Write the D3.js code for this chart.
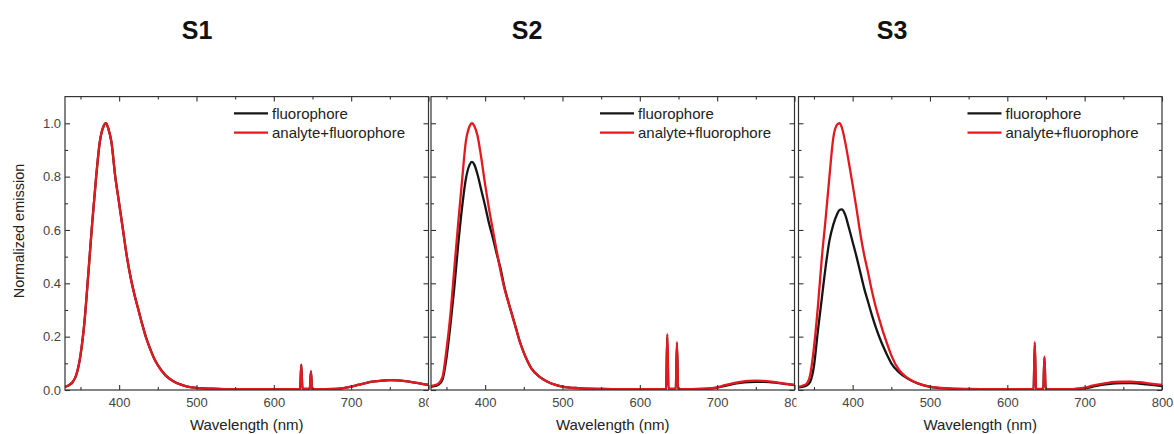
<!DOCTYPE html>
<html>
<head>
<meta charset="utf-8">
<script src="https://cdn.jsdelivr.net/npm/d3@7"></script>
<style>
  html, body { margin: 0; padding: 0; background: #fff; }
  svg { display: block; font-family: "Liberation Sans", Arial, sans-serif; }
</style>
</head>
<body>
<svg id="chart" width="1174" height="434"></svg>
<script>
// Emission wavelengths (nm) shared by every spectrum
const wavelength = [330, 335, 340, 345, 350, 355, 360, 365, 370, 375, 380, 383, 386,
  390, 395, 400, 405, 410, 415, 420, 425, 430, 435, 440, 445, 450,
  460, 470, 480, 490, 500, 520, 550, 580, 610, 630,
  634, 635.5, 637, 646.5, 648, 649.5, 655, 680, 690,
  700, 710, 720, 730, 740, 750, 760, 770, 780, 790, 800];

const panelTitles = ["S1", "S2", "S3"];
const seriesNames = ["fluorophore", "analyte+fluorophore"];

// S1: both spectra coincide
const s1Fluorophore = [0.012, 0.018, 0.03, 0.06, 0.13, 0.25, 0.43, 0.62, 0.79, 0.93, 0.99, 1.0, 0.98,
  0.93, 0.80, 0.70, 0.60, 0.50, 0.42, 0.355, 0.30, 0.245, 0.195, 0.155, 0.12, 0.093,
  0.055, 0.033, 0.02, 0.012, 0.008, 0.005, 0.003, 0.003, 0.003, 0.003,
  0.004, 0.095, 0.004, 0.004, 0.07, 0.004, 0.003, 0.004, 0.007,
  0.013, 0.02, 0.027, 0.032, 0.035, 0.037, 0.036, 0.033, 0.029, 0.024, 0.019];
const s1Mixture = [0.012, 0.018, 0.03, 0.06, 0.13, 0.25, 0.43, 0.62, 0.79, 0.93, 0.99, 1.0, 0.98,
  0.93, 0.80, 0.70, 0.60, 0.50, 0.42, 0.355, 0.30, 0.245, 0.195, 0.155, 0.12, 0.093,
  0.055, 0.033, 0.02, 0.012, 0.008, 0.005, 0.003, 0.003, 0.003, 0.003,
  0.004, 0.095, 0.004, 0.004, 0.07, 0.004, 0.003, 0.004, 0.007,
  0.013, 0.02, 0.027, 0.032, 0.035, 0.037, 0.036, 0.033, 0.029, 0.024, 0.019];

// S2
const s2Fluorophore = [0.012, 0.015, 0.02, 0.04, 0.12, 0.24, 0.38, 0.54, 0.68, 0.79, 0.845, 0.855, 0.845,
  0.81, 0.75, 0.69, 0.625, 0.57, 0.51, 0.455, 0.385, 0.33, 0.28, 0.23, 0.18, 0.14,
  0.08, 0.05, 0.032, 0.02, 0.013, 0.007, 0.004, 0.003, 0.003, 0.003,
  0.004, 0.2, 0.004, 0.004, 0.17, 0.004, 0.003, 0.004, 0.005,
  0.009, 0.015, 0.022, 0.027, 0.03, 0.031, 0.031, 0.029, 0.026, 0.022, 0.018];
const s2Mixture = [0.015, 0.018, 0.025, 0.05, 0.15, 0.28, 0.45, 0.62, 0.78, 0.93, 0.99, 1.0, 0.99,
  0.955, 0.87, 0.77, 0.68, 0.60, 0.52, 0.445, 0.38, 0.33, 0.28, 0.23, 0.18, 0.14,
  0.08, 0.05, 0.032, 0.02, 0.013, 0.007, 0.004, 0.003, 0.003, 0.003,
  0.004, 0.21, 0.004, 0.004, 0.18, 0.004, 0.003, 0.004, 0.006,
  0.01, 0.018, 0.025, 0.03, 0.034, 0.035, 0.034, 0.031, 0.027, 0.023, 0.019];

// S3
const s3Fluorophore = [0.01, 0.012, 0.016, 0.03, 0.09, 0.22, 0.34, 0.46, 0.56, 0.62, 0.66, 0.675, 0.677,
  0.66, 0.61, 0.555, 0.5, 0.44, 0.38, 0.33, 0.28, 0.235, 0.195, 0.16, 0.128, 0.1,
  0.066, 0.045, 0.03, 0.019, 0.012, 0.006, 0.003, 0.002, 0.002, 0.002,
  0.003, 0.17, 0.003, 0.003, 0.12, 0.003, 0.002, 0.002, 0.004,
  0.006, 0.012, 0.018, 0.022, 0.025, 0.026, 0.026, 0.024, 0.021, 0.018, 0.015];
const s3Mixture = [0.012, 0.016, 0.022, 0.055, 0.16, 0.31, 0.49, 0.64, 0.80, 0.945, 0.995, 1.0, 0.985,
  0.935, 0.855, 0.77, 0.68, 0.585, 0.505, 0.44, 0.37, 0.31, 0.26, 0.212, 0.17, 0.13,
  0.075, 0.047, 0.03, 0.019, 0.013, 0.007, 0.004, 0.003, 0.003, 0.003,
  0.004, 0.18, 0.004, 0.004, 0.125, 0.004, 0.003, 0.003, 0.005,
  0.009, 0.016, 0.022, 0.027, 0.03, 0.031, 0.031, 0.029, 0.026, 0.022, 0.019];

const xMajorTicks = [400, 500, 600, 700, 800];
const xMinorTicks = [350, 450, 550, 650, 750];
const yMajorTicks = [0.0, 0.2, 0.4, 0.6, 0.8, 1.0];
const yMinorTicks = [0.1, 0.3, 0.5, 0.7, 0.9];
const xAxisLabel = "Wavelength (nm)";
const yAxisLabel = "Normalized emission";

const panels = [
  { title: panelTitles[0], fluor: s1Fluorophore, mix: s1Mixture },
  { title: panelTitles[1], fluor: s2Fluorophore, mix: s2Mixture },
  { title: panelTitles[2], fluor: s3Fluorophore, mix: s3Mixture }
];

// Layout
const panelLeft = [65, 431, 798.5];
const titleCenter = [197, 527, 892];
const plotTop = 96.6, plotWidth = 363.5, plotHeight = 293.4;
const frameColor = "#333";
const colors = ["#151515", "#e3191f"];

const svg = d3.select("#chart");

const x = d3.scaleLinear().domain([330, 800]).range([0, plotWidth]);
const y = d3.scaleLinear().domain([0, 1.1]).range([plotHeight, 0]);

const line = d3.line()
  .x(d => x(d[0]))
  .y(d => y(d[1]))
  .curve(d3.curveMonotoneX);

// Panel titles
svg.selectAll("text.title")
  .data(panels)
  .join("text")
  .attr("class", "title")
  .attr("x", (d, i) => titleCenter[i])
  .attr("y", 39)
  .attr("text-anchor", "middle")
  .style("font-family", '"Liberation Sans Narrow", "Liberation Sans", Arial, sans-serif')
  .style("font-weight", "bold")
  .style("font-size", "25px")
  .attr("fill", "#111")
  .text(d => d.title);

// Shared y-axis title
svg.append("text")
  .attr("transform", `translate(19,231) rotate(-90)`)
  .attr("text-anchor", "middle")
  .attr("dominant-baseline", "central")
  .style("font-size", "14.5px")
  .attr("fill", "#222")
  .text(yAxisLabel);

function styleAxis(g) {
  g.select(".domain").remove();
  g.selectAll(".tick line").attr("stroke", frameColor).attr("stroke-width", 1.1);
  g.selectAll(".tick text").attr("fill", "#444").style("font-size", "13px");
}

panels.forEach((p, i) => {
  const g = svg.append("g").attr("transform", `translate(${panelLeft[i]},${plotTop})`);

  // Blank strip under the plot so each panel sits on top of the previous one's edge labels
  g.append("rect")
    .attr("x", -2).attr("y", plotHeight + 1)
    .attr("width", plotWidth + 3).attr("height", 40)
    .attr("fill", "#fff");

  const clipId = `clip-${i}`;
  g.append("clipPath").attr("id", clipId)
    .append("rect").attr("x", 0).attr("y", 0).attr("width", plotWidth).attr("height", plotHeight);

  // Spectra
  const series = [p.fluor, p.mix];
  g.append("g").attr("clip-path", `url(#${clipId})`)
    .selectAll("path")
    .data(series)
    .join("path")
    .attr("d", vals => line(wavelength.map((w, k) => [w, vals[k]])))
    .attr("fill", "none")
    .attr("stroke", (d, k) => colors[k])
    .attr("stroke-width", 2.3)
    .attr("stroke-linejoin", "round");

  // Bottom axis (inward ticks, labelled)
  g.append("g").attr("transform", `translate(0,${plotHeight})`)
    .call(d3.axisBottom(x).tickValues(xMajorTicks).tickSize(-5).tickSizeOuter(0).tickPadding(8).tickFormat(d3.format("d")))
    .call(styleAxis);
  g.append("g").attr("transform", `translate(0,${plotHeight})`)
    .call(d3.axisBottom(x).tickValues(xMinorTicks).tickSize(-3).tickSizeOuter(0).tickFormat(""))
    .call(styleAxis);

  // Top axis (mirror ticks)
  g.append("g")
    .call(d3.axisTop(x).tickValues(xMajorTicks).tickSize(-5).tickSizeOuter(0).tickFormat(""))
    .call(styleAxis);
  g.append("g")
    .call(d3.axisTop(x).tickValues(xMinorTicks).tickSize(-3).tickSizeOuter(0).tickFormat(""))
    .call(styleAxis);

  // Left axis: labels only on the first panel
  g.append("g")
    .call(d3.axisLeft(y).tickValues(yMajorTicks).tickSize(-5).tickSizeOuter(0).tickPadding(4)
      .tickFormat(i === 0 ? d3.format(".1f") : ""))
    .call(styleAxis);
  g.append("g")
    .call(d3.axisLeft(y).tickValues(yMinorTicks).tickSize(-3).tickSizeOuter(0).tickFormat(""))
    .call(styleAxis);

  // Right axis (mirror ticks)
  g.append("g").attr("transform", `translate(${plotWidth},0)`)
    .call(d3.axisRight(y).tickValues(yMajorTicks).tickSize(-5).tickSizeOuter(0).tickFormat(""))
    .call(styleAxis);
  g.append("g").attr("transform", `translate(${plotWidth},0)`)
    .call(d3.axisRight(y).tickValues(yMinorTicks).tickSize(-3).tickSizeOuter(0).tickFormat(""))
    .call(styleAxis);

  // Frame
  g.append("rect")
    .attr("x", 0).attr("y", 0).attr("width", plotWidth).attr("height", plotHeight)
    .attr("fill", "none").attr("stroke", frameColor).attr("stroke-width", 1.2);

  // x-axis title
  g.append("text")
    .attr("x", plotWidth / 2).attr("y", plotHeight + 40)
    .attr("text-anchor", "middle")
    .style("font-size", "15px")
    .attr("fill", "#222")
    .text(xAxisLabel);

  // Legend
  const legend = g.append("g").attr("transform", "translate(169,16.7)");
  const items = legend.selectAll("g").data(seriesNames).join("g")
    .attr("transform", (d, k) => `translate(0,${k * 19.4})`);
  items.append("line")
    .attr("x1", 0).attr("x2", 34).attr("y1", 0).attr("y2", 0)
    .attr("stroke", (d, k) => colors[k]).attr("stroke-width", 2.3);
  items.append("text")
    .attr("x", 38).attr("y", 0)
    .attr("dominant-baseline", "central")
    .style("font-size", "15px")
    .attr("fill", "#222")
    .text(d => d);
});
</script>
</body>
</html>
